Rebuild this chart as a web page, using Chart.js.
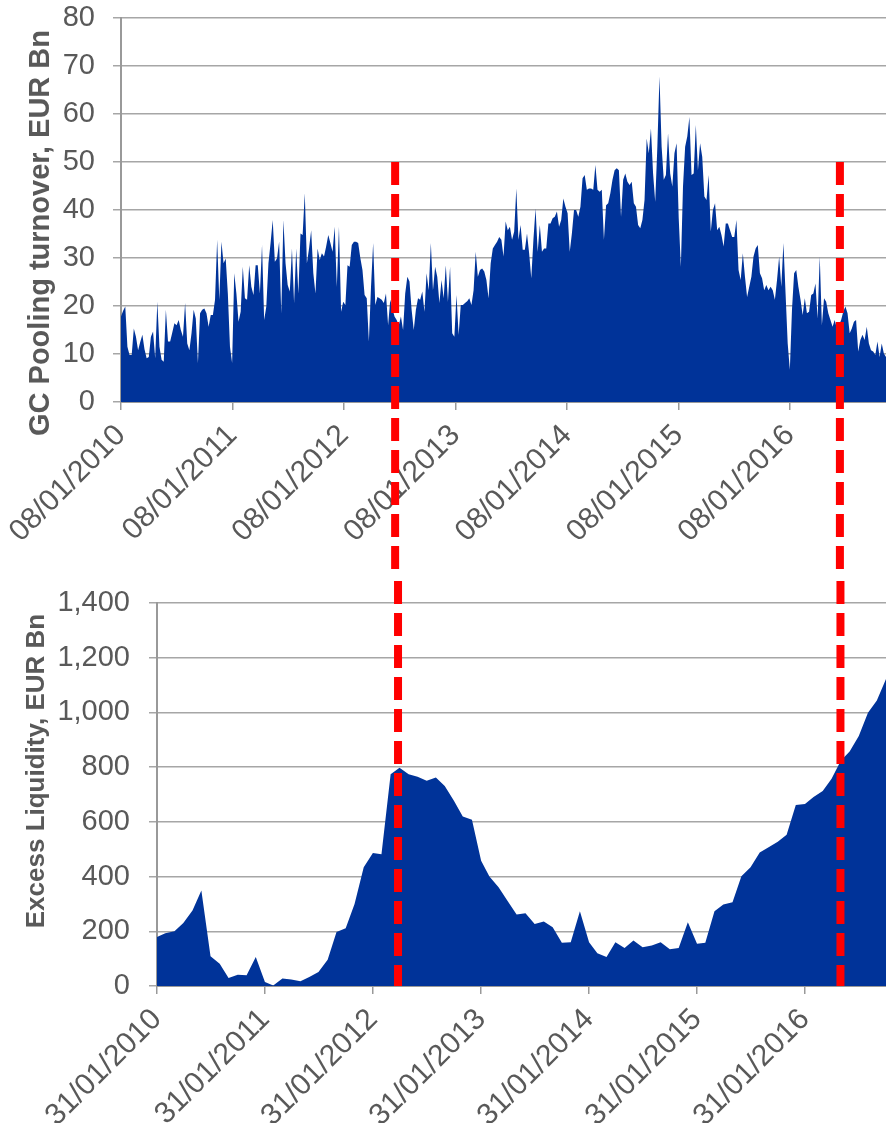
<!DOCTYPE html>
<html>
<head>
<meta charset="utf-8">
<script src="https://cdn.jsdelivr.net/npm/chart.js@4.4.1/dist/chart.umd.min.js"></script>
<style>
  body { margin: 0; background: #fff; }
  canvas { display: block; }
</style>
</head>
<body>
<canvas id="gcPooling" width="886" height="575"></canvas>
<canvas id="excessLiq" width="886" height="548"></canvas>
<script>
// GC Pooling turnover, weekly, EUR Bn (first week 08/01/2010)
var gcStart = "2010-01-08";
var gcTurnover = [
  17.8,19.0,19.9,11.5,9.8,9.8,15.3,13.6,10.8,12.5,14.0,11.0,9.1,9.4,13.6,14.7,9.1,20.9,11.5,8.8,
  8.4,19.2,12.6,12.6,14.5,16.4,16.0,17.1,15.0,13.6,20.6,12.2,10.8,14.3,19.2,17.4,8.1,18.5,19.2,19.5,
  18.5,15.7,18.1,18.1,21.3,33.8,21.3,33.4,28.9,29.9,22.6,11.5,8.1,26.8,22.6,16.7,18.8,28.2,21.6,21.3,
  28.5,24.0,22.3,28.5,28.5,22.6,32.7,17.1,19.9,28.9,33.1,37.9,29.2,29.9,33.4,18.5,37.9,28.9,24.4,23.0,
  32.0,20.6,32.0,22.6,35.1,34.8,43.5,28.9,32.0,35.8,26.8,22.6,32.0,29.6,31.0,30.3,32.4,34.8,33.1,31.3,
  36.5,24.0,36.5,18.8,20.9,20.2,28.5,28.2,32.7,33.4,33.4,33.1,30.0,27.5,22.3,21.6,12.6,24.0,33.1,20.2,
  21.9,21.6,21.3,20.6,22.6,16.0,21.3,19.5,17.8,17.1,16.0,17.8,15.0,22.6,26.1,25.1,19.2,15.0,19.2,21.6,
  21.3,23.0,18.8,26.8,23.3,33.1,23.3,28.2,26.1,20.6,25.4,21.6,28.5,20.9,28.2,14.3,13.6,22.3,14.0,20.2,
  20.2,20.6,21.0,21.6,20.2,23.3,31.3,26.1,27.5,27.8,27.2,25.4,21.6,28.9,32.0,32.7,33.4,34.4,33.8,
  30.3,37.6,35.8,36.5,33.8,35.5,44.5,33.8,36.9,31.7,31.7,35.1,31.0,25.8,33.8,40.3,31.3,36.9,31.3,32.0,
  32.0,37.2,37.2,38.3,38.6,39.7,36.5,37.9,42.4,40.7,39.3,31.3,35.1,40.0,40.0,38.6,40.7,46.6,47.3,44.2,
  44.5,44.5,44.2,49.4,44.2,43.8,44.2,33.8,41.0,41.4,43.5,46.3,48.3,48.7,48.3,38.6,46.3,47.6,45.9,45.2,
  45.9,41.4,40.7,36.9,36.2,37.9,42.1,54.9,51.8,57.0,47.6,41.7,53.2,67.8,53.2,46.3,47.3,56.0,47.6,44.9,
  51.8,53.9,38.3,28.2,44.9,53.2,55.3,59.4,47.3,47.6,57.7,48.3,53.9,51.1,42.8,42.1,47.3,35.5,40.0,41.4,
  35.8,36.5,34.8,32.4,37.2,37.2,35.8,34.4,34.4,37.9,27.5,25.4,31.0,26.1,21.9,24.0,26.1,30.3,32.0,32.7,
  26.8,25.8,23.3,24.4,23.3,24.0,23.3,21.3,25.4,30.3,24.0,33.1,22.6,12.2,6.7,19.2,26.8,27.5,24.0,21.3,
  18.1,21.6,18.5,18.8,22.3,22.6,24.7,17.4,30.3,16.0,21.6,20.9,18.5,17.1,15.7,17.1,15.3,16.0,17.1,18.8,
  19.9,18.5,14.3,15.3,16.7,17.1,10.5,12.9,14.0,12.9,15.7,12.2,10.8,10.5,9.8,12.6,9.4,12.2,10.1,9.4
];

// Excess liquidity, month end, EUR Bn (31/01/2010 .. 31/10/2016)
var elStart = "2010-01-31";
var excessLiquidity = [
  179,193,200,230,276,349,109,81,29,41,39,106,15,2,27,24,17,33,51,96,
  197,211,300,434,486,482,774,798,774,765,750,762,731,677,620,608,458,400,361,312,
  261,266,227,236,215,158,160,273,160,120,106,160,139,166,142,148,160,134,139,233,
  154,158,273,298,306,401,434,488,507,527,553,662,665,691,713,758,823,857,914,999,
  1044,1122
];

var tickYears = [2010,2011,2012,2013,2014,2015,2016];
var gcMarkers = ["2012-06-24", "2016-06-20"];
var elMarkers = ["2012-04-25", "2016-05-30"];

var DAY = 86400000;
var grey = "#595959";
var fontFam = "'Liberation Sans', Arial, sans-serif";

function dayOf(start, iso) {
  return (Date.parse(iso) - Date.parse(start)) / DAY;
}
function pad(n) { return (n < 10 ? "0" : "") + n; }
function fmtDate(start, days) {
  var d = new Date(Date.parse(start) + days * DAY);
  return pad(d.getUTCDate()) + "/" + pad(d.getUTCMonth() + 1) + "/" + d.getUTCFullYear();
}

// vertical titles drawn ourselves so they can sit off-centre like the original
var axisTitle = {
  id: "axisTitle",
  afterDraw: function(chart, args, o) {
    var ctx = chart.ctx;
    ctx.save();
    ctx.translate(o.x, o.y);
    ctx.rotate(-Math.PI / 2);
    ctx.font = "bold " + o.size + "px " + fontFam;
    ctx.fillStyle = grey;
    ctx.textAlign = "center";
    ctx.textBaseline = "alphabetic";
    ctx.fillText(o.text, 0, 0);
    ctx.restore();
  }
};

// red dashed marker lines
var markers = {
  id: "markers",
  afterDraw: function(chart, args, o) {
    var ctx = chart.ctx, xs = chart.scales.x, ys = chart.scales.y;
    var y1 = o.fromValue == null ? 0 : ys.getPixelForValue(o.fromValue);
    var y2 = o.toValue == null ? chart.height : ys.getPixelForValue(o.toValue);
    ctx.save();
    ctx.strokeStyle = "#ff0000";
    ctx.lineWidth = 8;
    ctx.setLineDash([23, 9]);
    ctx.lineDashOffset = o.dashOffset || 0;
    o.days.forEach(function(d) {
      var x = xs.getPixelForValue(d);
      ctx.beginPath();
      ctx.moveTo(x, y1);
      ctx.lineTo(x, y2);
      ctx.stroke();
    });
    ctx.restore();
  }
};

function makeChart(id, cfg) {
  var yearTicks = tickYears.map(function(y) {
    return dayOf(cfg.start, y + cfg.start.slice(4));
  });
  return new Chart(id, {
    type: "line",
    data: {
      datasets: [{
        data: cfg.values.map(function(v, i) { return { x: cfg.xs[i], y: v }; }),
        backgroundColor: "#003399",
        borderWidth: 0,
        pointRadius: 0,
        fill: "origin",
        tension: 0
      }]
    },
    options: {
      responsive: false,
      animation: false,
      layout: { padding: { top: cfg.top, left: 0, right: 0, bottom: 0 } },
      plugins: {
        legend: { display: false },
        tooltip: { enabled: false },
        axisTitle: cfg.title,
        markers: cfg.markers
      },
      scales: {
        x: {
          type: "linear",
          min: 0,
          max: cfg.xMax,
          afterBuildTicks: function(s) {
            s.ticks = yearTicks.map(function(v) { return { value: v }; });
          },
          afterFit: function(s) {
            s.height = cfg.xHeight;
            s.paddingLeft = 0; s.paddingRight = 0; s.paddingTop = 0; s.paddingBottom = 0;
          },
          ticks: {
            autoSkip: false,
            minRotation: 45,
            maxRotation: 45,
            padding: cfg.xPad,
            color: grey,
            font: { family: fontFam, size: 30 },
            callback: function(v) { return fmtDate(cfg.start, v); }
          },
          grid: { drawOnChartArea: false, tickLength: 8, color: "#999999", lineWidth: 1.5 },
          border: { color: "#999999", width: 2 }
        },
        y: {
          min: 0,
          max: cfg.yMax,
          afterFit: function(s) {
            s.width = cfg.yWidth;
            s.paddingLeft = 0; s.paddingRight = 0; s.paddingTop = 0; s.paddingBottom = 0;
          },
          ticks: {
            stepSize: cfg.yStep,
            padding: cfg.yPad,
            color: grey,
            font: { family: fontFam, size: 29 },
            callback: function(v) { return v.toLocaleString("en-US"); }
          },
          grid: { color: "#a6a6a6", lineWidth: 1.5, tickLength: 8 },
          border: { color: "#999999", width: 2 }
        }
      }
    },
    plugins: [axisTitle, markers]
  });
}

makeChart("gcPooling", {
  start: gcStart,
  values: gcTurnover,
  xs: gcTurnover.map(function(v, i) { return i * 7; }),
  xMax: (gcTurnover.length - 1) * 7,
  xHeight: 173, xPad: 8, top: 18,
  yMax: 80, yStep: 10, yWidth: 121, yPad: 18,
  title: { text: "GC Pooling turnover, EUR Bn", x: 49, y: 233, size: 29 },
  markers: { days: gcMarkers.map(function(d) { return dayOf(gcStart, d); }), fromValue: 50, toValue: null }
});

var elDays = excessLiquidity.map(function(v, i) {
  var s = new Date(Date.parse(elStart));
  var end = Date.UTC(s.getUTCFullYear(), s.getUTCMonth() + i + 1, 0);
  return (end - Date.parse(elStart)) / DAY;
});

makeChart("excessLiq", {
  start: elStart,
  values: excessLiquidity,
  xs: elDays,
  xMax: elDays[elDays.length - 1],
  xHeight: 137, xPad: 8, top: 28,
  yMax: 1400, yStep: 200, yWidth: 157, yPad: 19,
  title: { text: "Excess Liquidity, EUR Bn", x: 44, y: 196, size: 26 },
  markers: { days: elMarkers.map(function(d) { return dayOf(elStart, d); }), fromValue: null, toValue: 0, dashOffset: 26 }
});
</script>
</body>
</html>
